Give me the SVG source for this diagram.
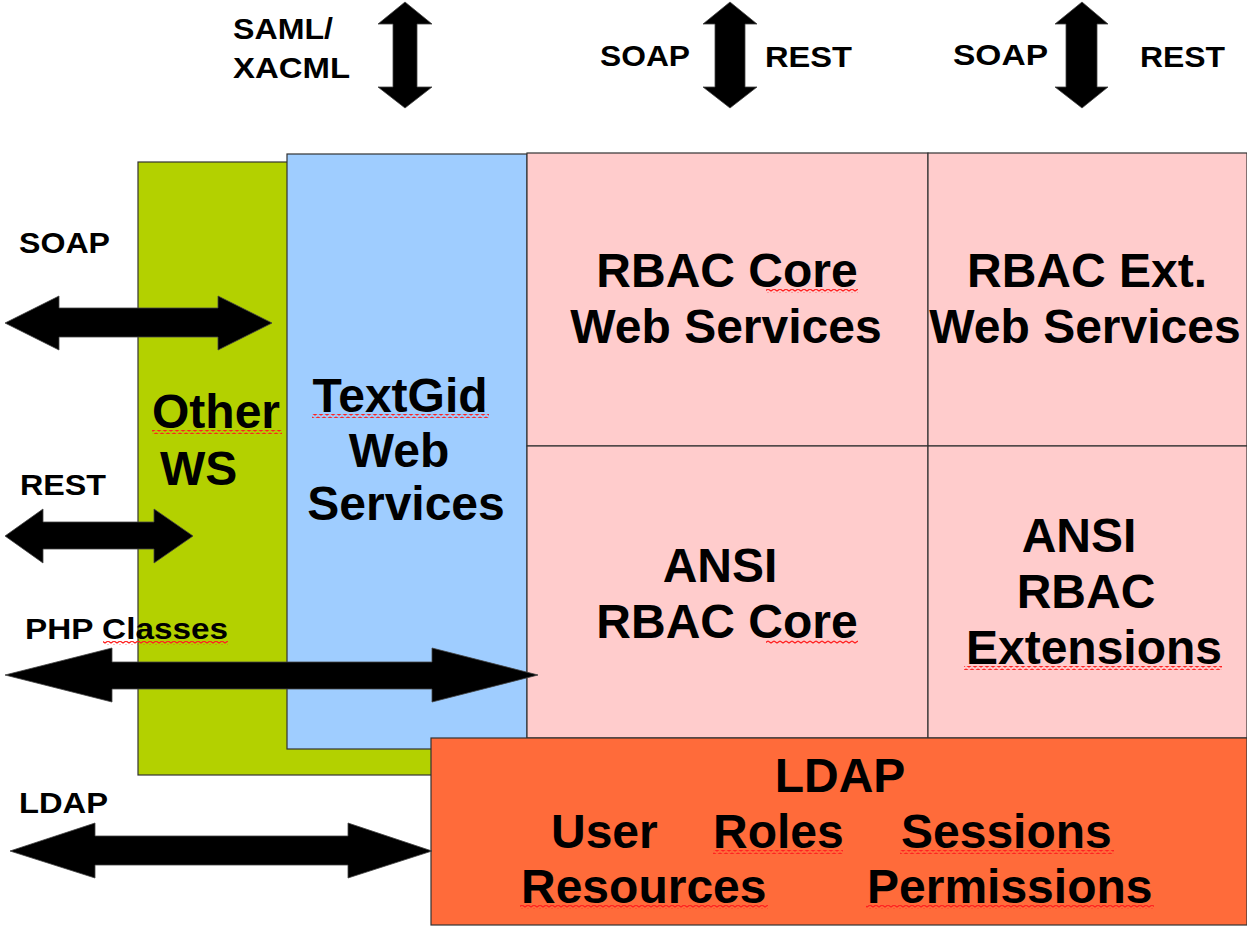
<svg xmlns="http://www.w3.org/2000/svg" width="1247" height="927" viewBox="0 0 1247 927">
<style>
.box{stroke:#333;stroke-width:1.2}
.green{fill:#B3D100}
.blue{fill:#9FCDFF}
.pink{fill:#FFCCCC}
.orange{fill:#FF6B3A}
.big{font-family:"Liberation Sans",Arial,sans-serif;font-weight:bold;font-size:48px;fill:#000}
.lbl{font-family:"Liberation Sans",Arial,sans-serif;font-weight:bold;font-size:30px;fill:#000}
.arr{fill:#000;stroke:#444;stroke-width:0.8}
.sq{fill:url(#squig)}
</style>
<defs>
<pattern id="squig" patternUnits="userSpaceOnUse" width="6" height="4">
<path d="M0,1 L3,3 L6,1" fill="none" stroke="#FF2020" stroke-width="1.4"/>
</pattern>
</defs>
<rect width="1247" height="927" fill="#fff"/>

<g id="other-ws">
<rect class="box green" x="138" y="162" width="300" height="613"/>
<text class="big" x="152" y="428">Other</text>
<text class="big" x="160" y="485">WS</text>
<rect class="sq" x="152" y="430" width="130" height="4"/>
</g>

<g id="textgid-ws">
<rect class="box blue" x="287" y="154" width="240" height="595"/>
<text class="big" x="400" y="412" text-anchor="middle">TextGid</text>
<text class="big" x="399" y="467" text-anchor="middle">Web</text>
<text class="big" x="406" y="520" text-anchor="middle">Services</text>
<rect class="sq" x="312" y="414" width="177" height="4"/>
</g>

<g id="rbac-core-ws">
<rect class="box pink" x="527" y="153" width="401" height="293"/>
<text class="big" x="727" y="287" text-anchor="middle">RBAC Core</text>
<text class="big" x="726" y="343" text-anchor="middle">Web Services</text>
<rect class="sq" x="766" y="289" width="92" height="4"/>
</g>

<g id="rbac-ext-ws">
<rect class="box pink" x="928" y="153" width="319" height="293"/>
<text class="big" x="1087" y="287" text-anchor="middle">RBAC Ext.</text>
<text class="big" x="1085" y="343" text-anchor="middle">Web Services</text>
</g>

<g id="ansi-rbac-core">
<rect class="box pink" x="527" y="446" width="401" height="292"/>
<text class="big" x="720" y="582" text-anchor="middle">ANSI</text>
<text class="big" x="727" y="638" text-anchor="middle">RBAC Core</text>
<rect class="sq" x="766" y="640" width="92" height="4"/>
</g>

<g id="ansi-rbac-ext">
<rect class="box pink" x="928" y="446" width="319" height="292"/>
<text class="big" x="1079" y="552" text-anchor="middle">ANSI</text>
<text class="big" x="1086" y="608" text-anchor="middle">RBAC</text>
<text class="big" x="1094" y="664" text-anchor="middle">Extensions</text>
<rect class="sq" x="964" y="666" width="258" height="4"/>
</g>

<g id="ldap">
<rect class="box orange" x="431" y="738" width="816" height="187"/>
<text class="big" x="840" y="792" text-anchor="middle">LDAP</text>
<text class="big" x="551" y="848">User</text>
<text class="big" x="713" y="848">Roles</text>
<text class="big" x="901" y="848">Sessions</text>
<text class="big" x="521" y="903">Resources</text>
<text class="big" x="867" y="903">Permissions</text>
<rect class="sq" x="713" y="850" width="130" height="4"/>
<rect class="sq" x="900" y="850" width="214" height="4"/>
<rect class="sq" x="520" y="905" width="248" height="4"/>
<rect class="sq" x="866" y="905" width="288" height="4"/>
</g>

<g id="connectors">
<polygon class="arr" points="405,2 432,24 417,24 417,87 432,87 405,108 378,87 393,87 393,24 378,24"/>
<polygon class="arr" points="730,2 757,24 745,24 745,87 757,87 730,108 703,87 715,87 715,24 703,24"/>
<polygon class="arr" points="1082,2 1108,24 1097,24 1097,87 1108,87 1082,108 1055,87 1066,87 1066,24 1055,24"/>
<polygon class="arr" points="5,323 59,296 59,308 218,308 218,296 272,323 218,350 218,337 59,337 59,350"/>
<polygon class="arr" points="5,536 43,509 43,522 154,522 154,509 193,536 154,563 154,549 43,549 43,563"/>
<polygon class="arr" points="5,675 112,648 112,662 432,662 432,648 538,675 432,702 432,689 112,689 112,702"/>
<polygon class="arr" points="10,851 95,823 95,836 348,836 348,823 432,851 348,878 348,865 95,865 95,878"/>
</g>

<g id="labels">
<text class="lbl" x="233" y="39" textLength="100" lengthAdjust="spacingAndGlyphs">SAML/</text>
<text class="lbl" x="233" y="78" textLength="117" lengthAdjust="spacingAndGlyphs">XACML</text>
<text class="lbl" x="600" y="66" textLength="90" lengthAdjust="spacingAndGlyphs">SOAP</text>
<text class="lbl" x="765" y="67" textLength="87" lengthAdjust="spacingAndGlyphs">REST</text>
<text class="lbl" x="953" y="65" textLength="95" lengthAdjust="spacingAndGlyphs">SOAP</text>
<text class="lbl" x="1140" y="67" textLength="85" lengthAdjust="spacingAndGlyphs">REST</text>
<text class="lbl" x="19" y="253" textLength="91" lengthAdjust="spacingAndGlyphs">SOAP</text>
<text class="lbl" x="20" y="495" textLength="86" lengthAdjust="spacingAndGlyphs">REST</text>
<text class="lbl" x="25" y="639" textLength="203" lengthAdjust="spacingAndGlyphs">PHP Classes</text>
<rect class="sq" x="103" y="641" width="125" height="4"/>
<text class="lbl" x="19" y="813" textLength="89" lengthAdjust="spacingAndGlyphs">LDAP</text>
</g>
</svg>
